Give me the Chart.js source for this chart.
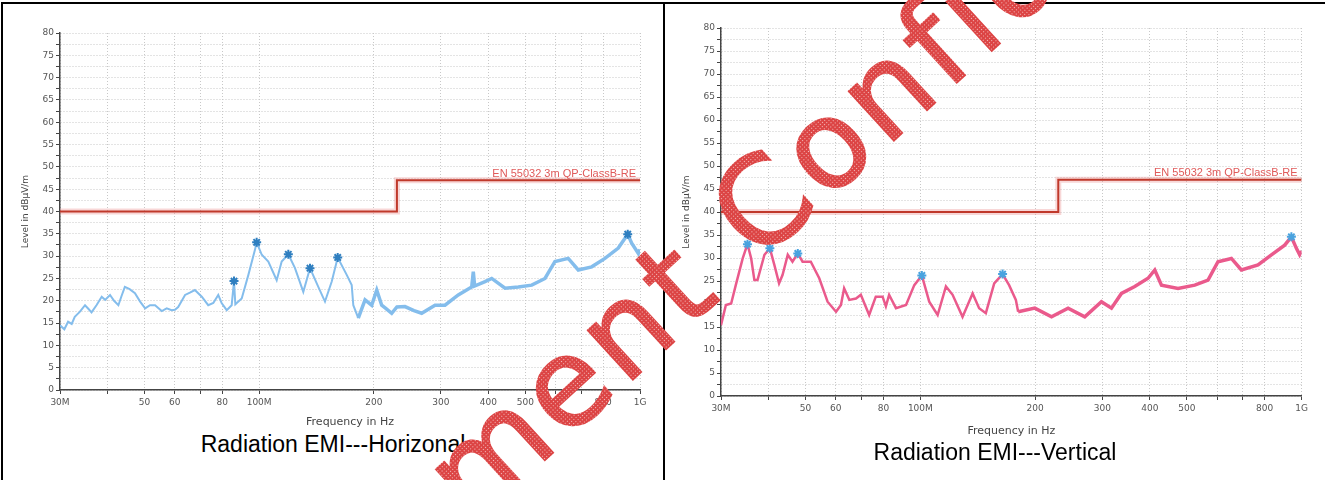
<!DOCTYPE html>
<html>
<head>
<meta charset="utf-8">
<script src="https://cdn.jsdelivr.net/npm/chart.js@4/dist/chart.umd.min.js"></script>
<style>
  body { margin: 0; background: #fff; }
  #page { position: relative; width: 1325px; height: 480px; overflow: hidden; background: #fff; }
  .rule { position: absolute; background: #000; }
  .caption { position: absolute; font: 23px 'Liberation Sans', Arial, sans-serif; color: #000; text-align: center; line-height: 24px; white-space: nowrap; }
  canvas { position: absolute; }
</style>
</head>
<body>
<div id="page">
  <div class="rule" style="left:1px;top:2px;width:1324px;height:2px"></div>
  <div class="rule" style="left:1px;top:2px;width:2px;height:478px"></div>
  <div class="rule" style="left:663px;top:2px;width:2px;height:478px"></div>
  <canvas id="chartH" width="640" height="420" style="left:10px;top:10px"></canvas>
  <canvas id="chartV" width="640" height="435" style="left:671px;top:5px"></canvas>
  <div class="caption" style="left:3px;width:660px;top:432px">Radiation EMI---Horizonal</div>
  <div class="caption" style="left:665px;width:660px;top:440px">Radiation EMI---Vertical</div>
  <canvas id="stamp" width="1325" height="480" style="left:0;top:0"></canvas>
</div>
<script>
// frequency axis in MHz (log), level in dBuV/m
const xTickValues = [30, 40, 50, 60, 70, 80, 100, 200, 300, 400, 500, 600, 700, 800, 1000];
const xTickLabels = ['30M', '', '50', '60', '', '80', '100M', '200', '300', '400', '500', '', '', '800', '1G'];

// EN 55032 3m QP class B limit
const limitFreq = [30, 230, 230, 1000];
const limitLevel = [40, 40, 47, 47];

// horizontal scan
const horFreq = [30.0, 30.8, 31.5, 32.2, 32.8, 33.8, 34.9, 35.6, 36.3, 37.4, 38.6, 39.4, 40.6, 41.6, 42.7, 43.5, 44.4, 45.7,
  47.2, 48.7, 50.2, 51.7, 53.3, 55.5, 57.2, 58.9, 60.1, 61.3, 63.9, 65.8, 67.8, 70.7, 73.5, 75.8, 78.1, 79.7, 82.2, 84.7,
  85.9, 86.6, 90.0, 93.7, 97.5, 98.5, 101.6, 105.7, 111.2, 114.6, 119.3, 124.2, 130.6, 136.0, 143.0, 148.9, 155.1, 160.8,
  169.8, 175.0, 176.7, 182.1, 189.7, 197.5, 203.6, 209.8, 215, 222.9, 230, 241.5, 255, 267.2, 289.6, 307.6, 333.3, 361.5,
  365.0, 368, 391.8, 408, 442.2, 479.2, 519.7, 563, 598, 648, 688.6, 746.9, 809, 877, 928.5, 951, 990, 1000];
const horLevel = [14.5, 13.6, 15.3, 14.8, 16.4, 17.5, 19.0, 18.2, 17.4, 19.0, 20.9, 20.2, 21.3, 20.0, 19.0, 21.0, 23.1, 22.6,
  21.7, 19.8, 18.3, 19.0, 19.0, 17.7, 18.3, 17.9, 18.0, 18.6, 21.3, 21.8, 22.4, 20.9, 19.0, 19.5, 21.3, 19.5, 17.9, 19.0,
  24.4, 19.2, 20.5, 25.8, 31.4, 33.1, 30.3, 28.8, 24.6, 28.8, 30.4, 27.3, 22.0, 27.3, 23.1, 19.8, 24.3, 29.7,
  25.8, 23.5, 19.0, 16.1, 20.2, 19.0, 22.4, 19.0, 18.3, 17.2, 18.6, 18.7, 17.8, 17.2, 19.0, 19.0, 21.3, 23.1,
  26.5, 23.3, 24.3, 25.0, 22.8, 23.1, 23.5, 25.0, 28.8, 29.5, 26.9, 27.6, 29.5, 31.8, 34.9, 32.9, 30.6, 31.5];
const horPeakFreq = [85.9, 98.5, 119.3, 136.0, 160.8, 928.5];
const horPeakLevel = [24.4, 33.1, 30.4, 27.3, 29.7, 34.9];

// vertical scan
const verFreq = [30.0, 30.9, 31.9, 32.8, 34.2, 35.2, 36.0, 36.7, 37.4, 39.0, 40.3, 41.4, 42.6, 43.5, 44.9, 46.2, 47.7, 49.1,
  51.6, 54.3, 57.1, 60.1, 61.9, 63.1, 65.1, 67.8, 69.8, 73.4, 76.4, 79.6, 81.2, 82.8, 86.3, 91.7, 96.4, 100.9, 105.5,
  111.0, 116.7, 121.5, 129.0, 137.1, 142.6, 148.5, 156.2, 164.3, 170.9, 178.0, 180.5, 199.6, 220.8, 244.0, 269.9, 298.5,
  317.1, 336.8, 365.0, 395.5, 411.9, 428.9, 474.0, 524.4, 568.1, 603.3, 654.2, 694.9, 768.3, 833, 902.6, 939.9, 968.7, 988, 1000];
const verLevel = [15.4, 19.8, 20.1, 24.1, 29.9, 33.0, 29.9, 25.2, 25.2, 30.7, 32.1, 28.5, 24.5, 26.3, 30.7, 29.2, 31.0, 29.2,
  29.2, 25.6, 20.5, 18.3, 19.8, 23.4, 20.9, 21.2, 22.0, 17.6, 21.6, 21.6, 19.5, 22.0, 19.1, 19.8, 24.1, 26.2, 20.5,
  17.6, 23.8, 22.0, 17.2, 22.3, 19.1, 18.0, 24.5, 26.5, 24.1, 20.9, 18.3, 19.1, 17.2, 19.1, 17.2, 20.5,
  19.1, 22.3, 23.8, 25.6, 27.4, 24.1, 23.4, 24.1, 25.2, 29.2, 29.9, 27.4, 28.5, 30.7, 32.8, 34.6, 32.1, 30.7, 31.5];
const verPeakFreq = [35.2, 40.3, 47.7, 100.9, 164.3, 939.9];
const verPeakLevel = [33.0, 32.1, 31.0, 26.2, 26.5, 34.6];

Chart.defaults.font.family = "'DejaVu Sans', sans-serif";

const pts = (xs, ys) => xs.map((f, i) => ({ x: f, y: ys[i] }));

const limitLabel = {
  id: 'limitLabel',
  afterDatasetsDraw(chart) {
    const { ctx, scales: { x, y } } = chart;
    ctx.save();
    ctx.font = "11px 'Liberation Sans', Arial, sans-serif";
    ctx.fillStyle = '#e05a5a';
    ctx.textAlign = 'right';
    ctx.textBaseline = 'bottom';
    ctx.fillText('EN 55032 3m QP-ClassB-RE', x.getPixelForValue(limitFreq[3]) - 4, y.getPixelForValue(limitLevel[3]) - 1);
    ctx.restore();
  }
};

function emiChart(id, freq, level, color, peakFreq, peakLevel, peakColor, padRight, xHeight, xTitlePad, thin) {
  return new Chart(document.getElementById(id), {
    type: 'line',
    data: {
      datasets: [
        { data: pts(peakFreq, peakLevel), showLine: false, pointStyle: 'star', pointRadius: 4.5, borderWidth: 2,
          borderColor: peakColor, backgroundColor: peakColor },
        { data: pts(freq, level), borderColor: color, borderWidth: thin, pointRadius: 0,
          segment: { borderWidth: c => c.p0.parsed.x > 180 ? 3.5 : thin } },
        { data: pts(limitFreq, limitLevel), borderColor: '#c0392b', borderWidth: 2, pointRadius: 0 },
        { data: pts(limitFreq, limitLevel), borderColor: 'rgba(235,140,140,0.35)', borderWidth: 6, pointRadius: 0 }
      ]
    },
    options: {
      responsive: false,
      animation: false,
      layout: { padding: { top: 23, right: padRight, left: 0, bottom: 0 } },
      plugins: { legend: { display: false }, tooltip: { enabled: false } },
      scales: {
        x: {
          type: 'logarithmic', min: 30, max: 1000,
          afterBuildTicks: s => { s.ticks = xTickValues.map(v => ({ value: v })); },
          afterFit: s => { s.height = xHeight; },
          ticks: { autoSkip: false, maxRotation: 0, padding: 3, color: '#555', font: { size: 9 },
            callback: (v, i) => xTickLabels[i] },
          grid: { color: '#c8c8c8', tickColor: '#444', tickLength: 4 },
          border: { color: '#444', width: 1.5, dash: [1, 2] },
          title: { display: true, text: 'Frequency in Hz', color: '#444', font: { size: 11 },
            padding: { top: 0, bottom: xTitlePad } }
        },
        y: {
          min: 0, max: 80,
          afterFit: s => { s.width = 50; },
          ticks: { stepSize: 2.5, autoSkip: false, padding: 2, color: '#555', font: { size: 9 },
            callback: v => v % 5 === 0 ? v : '' },
          grid: { color: '#c8c8c8', tickColor: '#444', tickLength: 4 },
          border: { color: '#444', width: 1.5, dash: [1, 2] },
          title: { display: true, text: 'Level in dBµV/m', color: '#444', font: { size: 9 },
            padding: { top: 10, bottom: 0 } }
        }
      }
    },
    plugins: [limitLabel]
  });
}

emiChart('chartH', horFreq, horLevel, '#84bdec', horPeakFreq, horPeakLevel, '#2f7fc0', 10, 40, 1, 2);
emiChart('chartV', verFreq, verLevel, '#ea5a8c', verPeakFreq, verPeakLevel, '#4aa3df', 9, 44, 2.4, 2.5);

// red watermark across both panels
const stamp = document.getElementById('stamp').getContext('2d');
const tile = document.createElement('canvas');
tile.width = 3; tile.height = 3;
const tc = tile.getContext('2d');
tc.fillStyle = '#dc4444'; tc.fillRect(0, 0, 3, 3);
tc.fillStyle = '#f4bcbc'; tc.fillRect(1, 1, 1, 1);
stamp.font = "122px 'DejaVu Sans'";
stamp.letterSpacing = '6px';
stamp.fillStyle = stamp.createPattern(tile, 'repeat');
stamp.strokeStyle = stamp.fillStyle;
stamp.lineWidth = 2;
stamp.translate(759, 264);
stamp.rotate(-42.5 * Math.PI / 180);
const lead = stamp.measureText('Document ').width;
stamp.fillText('Document Confidential', -lead, 0);
stamp.strokeText('Document Confidential', -lead, 0);
</script>
</body>
</html>
